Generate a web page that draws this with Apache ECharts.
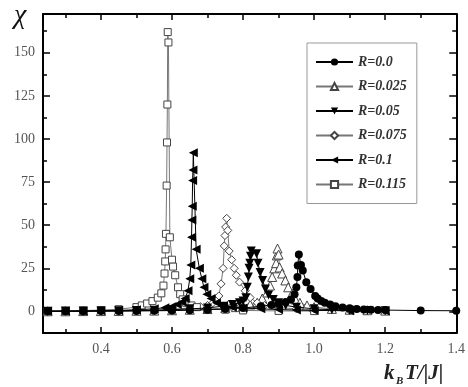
<!DOCTYPE html>
<html>
<head>
<meta charset="utf-8">
<script src="https://cdn.jsdelivr.net/npm/echarts@6/dist/echarts.min.js"></script>
<style>
  html, body { margin: 0; padding: 0; background: #fff; }
  #chart { width: 468px; height: 387px; }
</style>
</head>
<body>
<div id="chart"></div>
<script>
// series labels (legend order)
const seriesNames = ['R=0.0', 'R=0.025', 'R=0.05', 'R=0.075', 'R=0.1', 'R=0.115'];

// R = 0.0
const T0 = [0.25,0.30,0.35,0.40,0.45,0.50,0.55,0.60,0.65,0.70,0.75,0.80,0.85,0.88,0.90,0.92,0.935,0.945,0.950,0.953,0.954,0.957,0.963,0.968,0.978,0.990,1.003,1.010,1.020,1.030,1.045,1.060,1.080,1.100,1.120,1.140,1.160,1.180,1.200,1.300,1.400];
const chi0 = [0.1,0.1,0.1,0.2,0.2,0.3,0.4,0.5,0.7,1.0,1.4,2.0,3.0,3.8,4.5,5.5,7,10,14,20,26.6,33,27,23.7,17,13,9,7.5,6,5,4,3,2.3,1.8,1.4,1.2,1.0,0.9,0.8,0.5,0.4];

// R = 0.025
const T1 = [0.25,0.30,0.35,0.40,0.45,0.50,0.55,0.60,0.65,0.70,0.75,0.78,0.80,0.82,0.84,0.854,0.868,0.876,0.882,0.888,0.893,0.895,0.897,0.900,0.903,0.910,0.919,0.927,0.938,0.947,0.960,0.980,1.000,1.050,1.100,1.150,1.200];
const chi1 = [0.1,0.1,0.2,0.2,0.3,0.4,0.5,0.7,1.0,1.4,2.0,2.5,3.0,4.0,5.0,7.5,11,15,20,25,28,32.5,36.5,33,25.5,22,18,14,10.4,7,5,3.5,2.5,1.5,1.0,0.7,0.5];

// R = 0.05
const T2 = [0.25,0.30,0.35,0.40,0.45,0.50,0.55,0.60,0.65,0.70,0.74,0.77,0.79,0.800,0.808,0.812,0.815,0.817,0.819,0.821,0.823,0.838,0.842,0.848,0.855,0.863,0.872,0.885,0.900,0.920,0.950,1.000,1.050,1.100,1.150,1.200];
const chi2 = [0.1,0.2,0.2,0.3,0.4,0.5,0.7,1.0,1.5,2.0,3,4,5,6,8,14,20,25,28,32,35,33.5,28,22.6,18,13,9.5,7,5,3.5,2.5,1.5,1.0,0.7,0.5,0.4];

// R = 0.075
const T3 = [0.25,0.30,0.35,0.40,0.45,0.50,0.55,0.60,0.65,0.68,0.70,0.715,0.725,0.732,0.738,0.744,0.747,0.749,0.751,0.754,0.757,0.761,0.768,0.775,0.781,0.790,0.806,0.820,0.840,0.860,0.900,0.950,1.000,1.100,1.200];
const chi3 = [0.1,0.2,0.2,0.3,0.4,0.6,0.8,1.2,2.0,2.8,3.5,5,6.5,9,16,25,38,44,49,54,47,35,30,25,21,17,12,8,5,3.5,2.2,1.5,1.0,0.6,0.4];

// R = 0.1
const T4 = [0.25,0.30,0.35,0.40,0.45,0.50,0.55,0.58,0.60,0.615,0.628,0.637,0.645,0.650,0.653,0.655,0.656,0.657,0.658,0.659,0.660,0.668,0.677,0.684,0.690,0.698,0.710,0.725,0.745,0.770,0.800,0.850,0.900,0.950,1.000,1.100,1.200];
const chi4 = [0.2,0.2,0.3,0.4,0.6,1.0,1.5,2.2,2.8,4,5.5,7.5,12,19,27,43,53,61,76,82,92,36,25,19,14,10,7.5,5,3.5,2.5,2.0,1.5,1.1,0.8,0.6,0.4,0.3];

// R = 0.115
const T5 = [0.25,0.30,0.35,0.40,0.45,0.50,0.515,0.530,0.545,0.560,0.570,0.576,0.579,0.581,0.582,0.583,0.585,0.586,0.587,0.588,0.590,0.594,0.600,0.603,0.609,0.617,0.623,0.630,0.640,0.655,0.670,0.700,0.750,0.800,0.900,1.000];
const chi5 = [0.2,0.3,0.5,0.8,1.3,2.5,3.5,4.6,6,8,10.5,15,22,29,36,45,73,98,120,162,156,43,30,26,21,14,10,7,5,3.5,2.5,1.5,1.0,0.6,0.3,0.2];

// tick values
const xLabelTicks = [0.4, 0.6, 0.8, 1.0, 1.2, 1.4];
const xMinorTicks = [0.3, 0.5, 0.7, 0.9, 1.1, 1.3];
const yLabelTicks = [0, 25, 50, 75, 100, 125, 150];
const yMinorTicks = [12.5, 37.5, 62.5, 87.5, 112.5, 137.5, 162.5];

const zip = (xs, ys) => xs.map((x, i) => [x, ys[i]]);

const serif = 'Liberation Serif';
const black = '#000';
const gray = '#777';

function lineSeries(name, T, chi, symbol, rotate, hollow) {
    return {
        name: name,
        type: 'line',
        data: zip(T, chi),
        symbol: symbol,
        symbolRotate: rotate,
        symbolSize: symbol === 'rect' ? 7 : (symbol === 'triangle' ? 9 : 8),
        showSymbol: true,
        lineStyle: { color: hollow ? gray : black, width: 1 },
        itemStyle: hollow
            ? { color: '#fff', borderColor: '#444', borderWidth: 1 }
            : { color: black, borderColor: black, borderWidth: 0 },
        xAxisIndex: 0,
        yAxisIndex: 0,
        z: hollow ? 2 : 3
    };
}

const xMin = 0.237, xMax = 1.4;
const yMin = -12.5, yMax = 172.5;

function xAxisDef(pos, ticks, len, withLine, withLabel) {
    return {
        type: 'value', position: pos, min: xMin, max: xMax,
        splitLine: { show: false },
        axisLine: { show: withLine, onZero: false, lineStyle: { color: black, width: 2 } },
        axisTick: { show: true, inside: true, length: len, customValues: ticks, lineStyle: { color: black, width: 1.5 } },
        axisLabel: withLabel ? {
            show: true, customValues: xLabelTicks, margin: 9,
            formatter: v => v.toFixed(1),
            color: '#555', fontFamily: serif, fontSize: 14
        } : { show: false }
    };
}

function yAxisDef(pos, ticks, len, withLine, withLabel) {
    return {
        type: 'value', position: pos, min: yMin, max: yMax,
        splitLine: { show: false },
        axisLine: { show: withLine, onZero: false, lineStyle: { color: black, width: 2 } },
        axisTick: { show: true, inside: true, length: len, customValues: ticks, lineStyle: { color: black, width: 1.5 } },
        axisLabel: withLabel ? {
            show: true, customValues: yLabelTicks, margin: 8,
            color: '#555', fontFamily: serif, fontSize: 14
        } : { show: false }
    };
}

const chart = echarts.init(document.getElementById('chart'));
chart.setOption({
    animation: false,
    backgroundColor: '#fff',
    grid: { left: 43, right: 11, top: 14, bottom: 54, containLabel: false },
    legend: {
        orient: 'vertical',
        left: 307, top: 43,
        padding: [12, 10, 12, 8],
        itemWidth: 37, itemHeight: 9, itemGap: 10.5,
        borderColor: '#999', borderWidth: 1,
        backgroundColor: '#fff',
        textStyle: { fontFamily: serif, fontStyle: 'italic', fontWeight: 'bold', fontSize: 14, color: '#333' },
        data: seriesNames
    },
    xAxis: [
        xAxisDef('bottom', xLabelTicks, 6, true, true),
        xAxisDef('top', xLabelTicks, 6, true, false),
        xAxisDef('bottom', xMinorTicks, 4, false, false),
        xAxisDef('top', xMinorTicks, 4, false, false)
    ],
    yAxis: [
        yAxisDef('left', yLabelTicks, 7, true, true),
        yAxisDef('right', yLabelTicks, 7, true, false),
        yAxisDef('left', yMinorTicks, 4, false, false),
        yAxisDef('right', yMinorTicks, 4, false, false)
    ],
    graphic: [
        { type: 'text', left: 14, top: 2, style: { text: 'χ', font: 'italic 28px "Liberation Serif"', fill: '#111' } },
        { type: 'text', left: 384, top: 363, style: { text: 'k', font: 'italic bold 21px "Liberation Serif"', fill: '#222' } },
        { type: 'text', left: 396, top: 376, style: { text: 'B', font: 'italic bold 11px "Liberation Serif"', fill: '#222' } },
        { type: 'text', left: 405, top: 363, style: { text: 'T/|J|', font: 'italic bold 21px "Liberation Serif"', fill: '#222' } }
    ],
    series: [
        lineSeries(seriesNames[0], T0, chi0, 'circle', 0, false),
        lineSeries(seriesNames[1], T1, chi1, 'triangle', 0, true),
        lineSeries(seriesNames[2], T2, chi2, 'triangle', 180, false),
        lineSeries(seriesNames[3], T3, chi3, 'diamond', 0, true),
        lineSeries(seriesNames[4], T4, chi4, 'triangle', 90, false),
        lineSeries(seriesNames[5], T5, chi5, 'rect', 0, true)
    ]
});
</script>
</body>
</html>
